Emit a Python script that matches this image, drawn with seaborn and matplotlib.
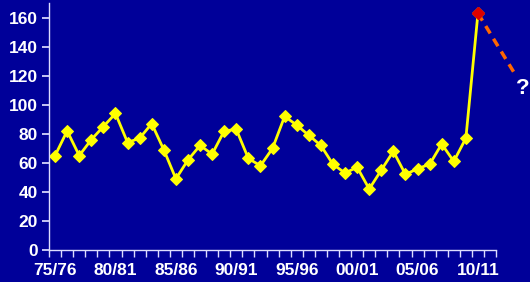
import numpy as np
import pandas as pd
import matplotlib.pyplot as plt
import seaborn as sns

# seasons 75/76 .. 11/12 (last one has no value yet)
seasons = [f"{y % 100:02d}/{(y + 1) % 100:02d}" for y in range(1975, 2012)]
values = [65, 82, 65, 76, 85, 94, 74, 77, 87, 69,
          49, 62, 72, 66, 82, 83, 63, 58, 70, 92,
          86, 79, 72, 59, 53, 57, 42, 55, 68, 52,
          56, 59, 73, 61, 77, 163]
shown_labels = ['75/76', '80/81', '85/86', '90/91', '95/96', '00/01', '05/06', '10/11']
y_ticks = [0, 20, 40, 60, 80, 100, 120, 140, 160]
# guess where it goes next (dashed arrow)
guess_x = [35, 38]
guess_y = [163, 122]

bg = '#000099'
sns.set_theme(style='dark')
plt.rcParams['font.family'] = ['Liberation Sans', 'DejaVu Sans']

df = pd.DataFrame({'idx': np.arange(len(values)), 'value': values})

fig = plt.figure(figsize=(5.3, 2.82), dpi=100, facecolor=bg)
ax = fig.add_axes([0.0925, 0.1135, 0.8435, 0.8755])
ax.set_facecolor(bg)

sns.lineplot(data=df, x='idx', y='value', color='#FFFF00', lw=2,
             marker='D', markersize=6, markeredgecolor='#FFFF00', ax=ax)
ax.plot(df['idx'].iloc[-1], df['value'].iloc[-1], marker='D', markersize=6.5,
        color='#DD0000', zorder=5)
ax.plot(guess_x, guess_y, color='#FF6600', lw=2.5, ls=(0, (2.5, 1.8)),
        clip_on=False, zorder=4)
ax.text(guess_x[-1] + 0.7, guess_y[-1] - 11, '?', color='white',
        fontsize=16, fontweight='bold', ha='center', va='center')

ax.set_xlim(-0.5, len(seasons) - 0.5)
ax.set_ylim(0, 170)
ax.set_yticks(y_ticks)
ax.set_xticks([seasons.index(s) for s in shown_labels])
ax.set_xticklabels(shown_labels)
ax.set_xticks(np.arange(len(seasons) + 1) - 0.5, minor=True)
ax.grid(False)
ax.set_xlabel('')
ax.set_ylabel('')

for side in ['top', 'right']:
    ax.spines[side].set_visible(False)
for side in ['left', 'bottom']:
    ax.spines[side].set_visible(True)
    ax.spines[side].set_color('#DDDDFF')
    ax.spines[side].set_linewidth(1)

ax.tick_params(axis='x', which='major', length=0, colors='white', labelsize=12.5, pad=9.5)
ax.tick_params(axis='x', which='minor', length=5, direction='out', color='#DDDDFF', bottom=True)
ax.tick_params(axis='y', which='major', length=5, direction='out', color='#DDDDFF',
               labelcolor='white', labelsize=12.5, left=True, pad=3)
for lab in ax.get_xticklabels() + ax.get_yticklabels():
    lab.set_fontweight('bold')

fig.savefig('out.png', dpi=100, facecolor=bg)
